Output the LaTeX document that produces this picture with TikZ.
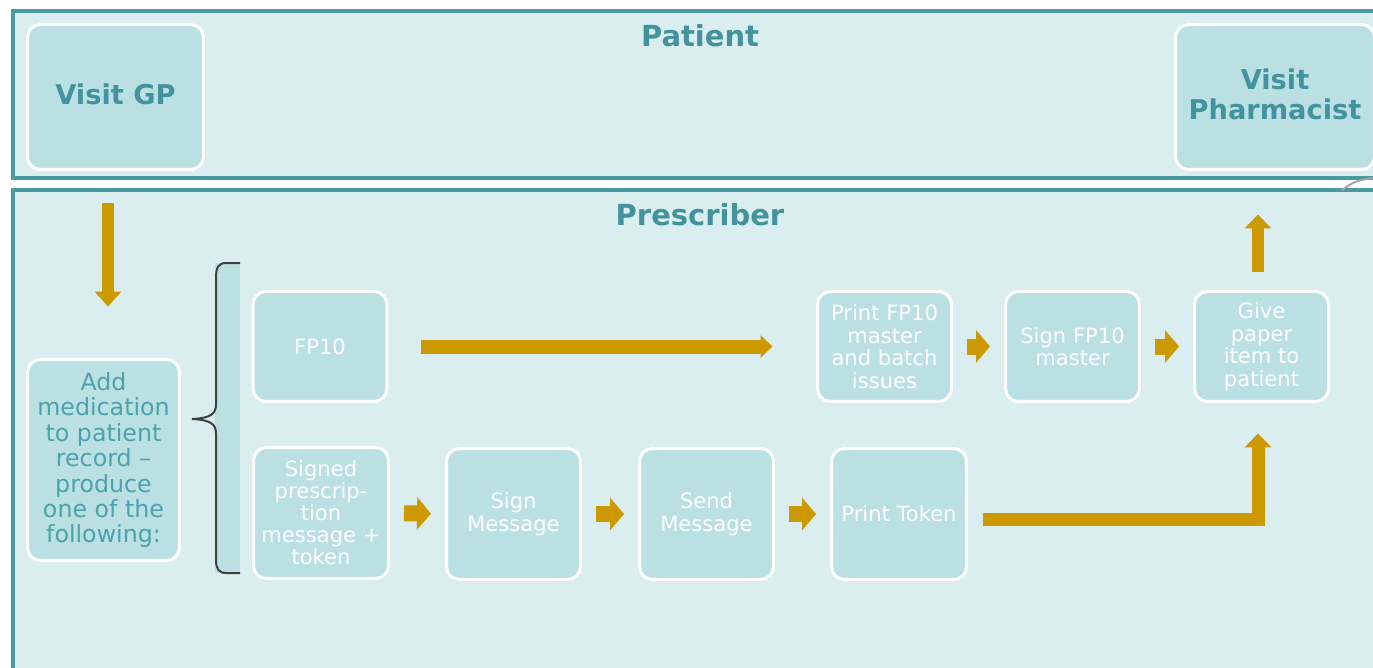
\documentclass[tikz,border=0pt]{standalone}
\usepackage{fontspec}
\setmainfont{DejaVu Sans}
\usepackage{xcolor}
\usepackage{tikz}
\usetikzlibrary{arrows.meta}

\definecolor{lanefill}{HTML}{DAEDEF}
\definecolor{laneline}{HTML}{4A9AA2}
\definecolor{boxfill}{HTML}{BBE0E3}
\definecolor{titleteal}{HTML}{43939E}
\definecolor{addteal}{HTML}{4BA3AD}
\definecolor{gold}{HTML}{CC9900}

\begin{document}
\begin{tikzpicture}[x=0.02cm, y=-0.02cm,
		lane/.style={draw=laneline, line width=0.08cm, fill=lanefill},
		lanetitle/.style={text=titleteal, font=\fontsize{16.5}{18}\selectfont\bfseries},
		stepbox/.style={draw=white, line width=0.06cm, fill=boxfill, rounded corners=0.26cm, inner sep=0pt, align=center, text=white, font=\fontsize{12}{12.8}\selectfont, minimum width=2.68cm, minimum height=2.2cm},
		bigbox/.style={stepbox, text=titleteal, font=\fontsize{15.5}{17}\selectfont\bfseries, minimum width=3.52cm, minimum height=2.9cm, text depth=0.12cm},
		flow/.style={draw=gold, line width=0.32cm, -{Triangle[length=0.28cm,width=0.64cm]}, shorten <=0.28cm, shorten >=0.28cm},
		bar/.style={draw=gold, line width=0.26cm}]
	\useasboundingbox (0,0) rectangle (1373,667);
	\clip (0,0) rectangle (1373,667);
	
	% swim lanes
	\draw[lane] (13,11) rectangle (1400,178);
	\draw[lane] (13,190) rectangle (1400,700);
	\draw[gray!70, line width=0.04cm] (1342,190) .. controls (1355,181) .. (1373,178);
	\node[lanetitle] (ptitle) at (700,36) {Patient};
	\node[lanetitle] (prtitle) at (700,215) {Prescriber};
	
	% patient
	\node[bigbox] (gp) at (115.5,97) {Visit GP};
	\node[bigbox, minimum width=3.98cm] (pharm) at (1275,97) {Visit\\Pharmacist};
	
	% prescriber
	\node[stepbox, text=addteal, font=\fontsize{13.5}{14.5}\selectfont, minimum width=3.04cm, minimum height=4.02cm] (addmed) at (103.5,460) {Add\\medication\\to patient\\record --\\produce\\one of the\\following:};
	\node[fill=boxfill, inner sep=0pt, minimum width=0.5cm, minimum height=6.2cm] (bracebar) at (227.5,418) {};
	\draw[black!75, line width=0.04cm] (240,263) -- (226,263) .. controls (219,263) and (216,267) .. (216,277) -- (216,404) .. controls (216,414) and (211,418) .. (192,419) .. controls (211,420) and (216,424) .. (216,434) -- (216,560) .. controls (216,569) and (219,573) .. (226,573) -- (240,573);
	
	\node[stepbox] (fp10) at (320,346.5) {FP10};
	\node[stepbox] (printfp) at (884.5,346.5) {Print FP10\\master\\and batch\\issues};
	\node[stepbox] (signfp) at (1072.5,346.5) {Sign FP10\\master};
	\node[stepbox] (give) at (1261.5,346.5) {Give\\paper\\item to\\patient};
	
	\node[stepbox, minimum width=2.7cm, minimum height=2.62cm, font=\fontsize{12}{12.5}\selectfont] (sig) at (321,513) {Signed\\prescrip-\\tion\\message +\\token};
	\node[stepbox, minimum width=2.68cm, minimum height=2.62cm] (signm) at (513.5,514) {Sign\\Message};
	\node[stepbox, minimum width=2.68cm, minimum height=2.62cm] (sendm) at (706.5,514) {Send\\Message};
	\node[stepbox, minimum width=2.7cm, minimum height=2.62cm] (ptok) at (899,514) {Print Token};
	
	% arrows
	\draw[flow, line width=0.24cm, -{Triangle[length=0.3cm,width=0.52cm]}, shorten <=0.65cm, shorten >=1.03cm] ([xshift=-0.15cm]gp.south) -- ([xshift=-0.15cm]gp.south |- addmed.north);
	\draw[flow, line width=0.28cm, -{Triangle[length=0.24cm,width=0.44cm]}, shorten <=0.66cm, shorten >=0.87cm] (fp10.east) -- (printfp.west);
	\draw[flow] (printfp.east) -- (signfp.west);
	\draw[flow] (signfp.east) -- (give.west);
	\draw[flow] (sig.east) -- (signm.west);
	\draw[flow] (signm.east) -- (sendm.west);
	\draw[flow] (sendm.east) -- (ptok.west);
	\draw[bar, -{Triangle[length=0.28cm,width=0.52cm]}, shorten <=0.31cm, shorten >=0.61cm] ([yshift=-0.1cm]ptok.east) -| ([xshift=-0.07cm]give.south);
	\draw[flow, line width=0.24cm, -{Triangle[length=0.28cm,width=0.52cm]}, shorten <=0.37cm, shorten >=0.87cm] ([xshift=-0.07cm]give.north) -- ([xshift=-0.07cm]give.north |- pharm.south);
\end{tikzpicture}
\end{document}
